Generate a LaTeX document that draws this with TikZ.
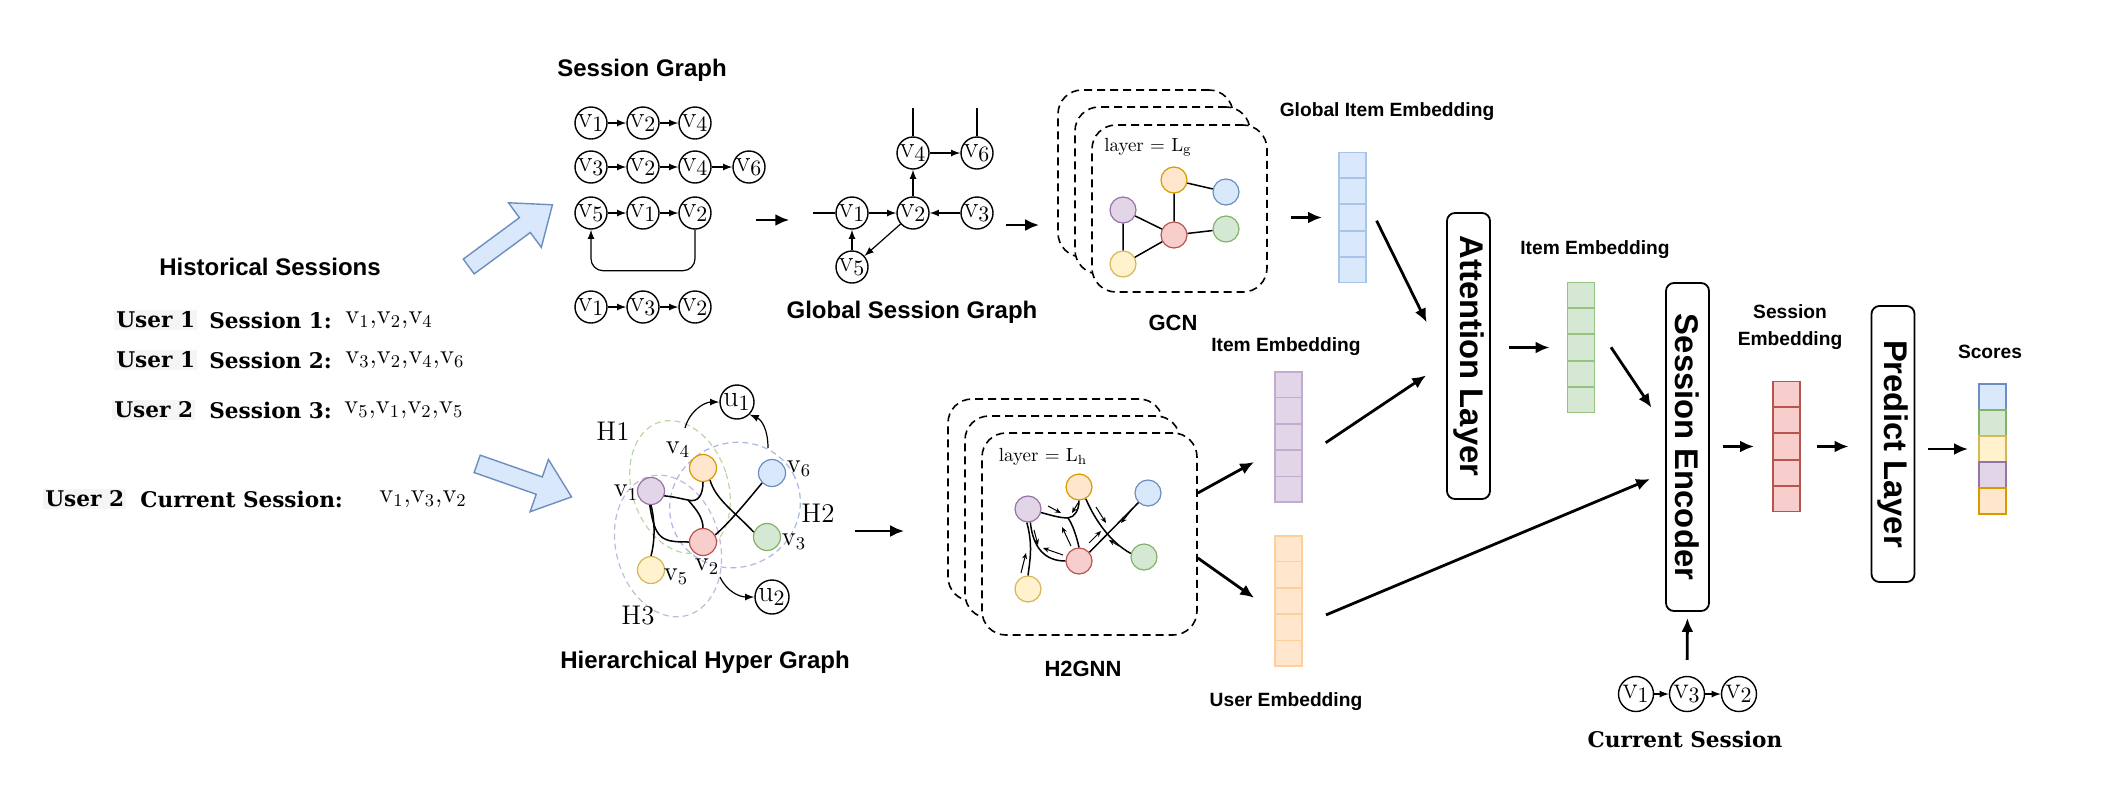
\documentclass[tikz,border=0pt]{standalone}
\usepackage{fontspec}
\setsansfont{Liberation Sans}
\newfontfamily\rowfont{DejaVu Serif}
\usepackage{amsmath}
\usepackage{graphicx}
\usetikzlibrary{arrows.meta,calc,shapes.arrows}
\tikzset{>=latex}

\definecolor{bfill}{HTML}{DAE8FC}\definecolor{bline}{HTML}{6C8EBF}
\definecolor{gfill}{HTML}{D5E8D4}\definecolor{gline}{HTML}{82B366}
\definecolor{yfill}{HTML}{FFF2CC}\definecolor{yline}{HTML}{D6B656}
\definecolor{pfill}{HTML}{E1D5E7}\definecolor{pline}{HTML}{9673A6}
\definecolor{ofill}{HTML}{FFE6CC}\definecolor{oline}{HTML}{D79B00}
\definecolor{rfill}{HTML}{F8CECC}\definecolor{rline}{HTML}{B85450}
\definecolor{blight}{HTML}{A9C4EB}\definecolor{plight}{HTML}{C3ABD0}
\definecolor{olight}{HTML}{FFCE9F}\definecolor{glight}{HTML}{97C280}
\definecolor{hgreen}{HTML}{B9D8A6}\definecolor{hblue}{HTML}{A9B9DF}
\definecolor{hpurple}{HTML}{C9B6D9}

\newcommand{\iv}[1]{$\mathrm{v}_{#1}$}
\newcommand{\embvec}[5]{%
  \node[vecbox, fill=#4, draw=#5] (#1) at (#2,#3) {};
  \foreach \k in {1,...,4}
    \draw[#5, line width=0.9pt] ($(#1.north west)!\k/5!(#1.south west)$) -- ($(#1.north east)!\k/5!(#1.south east)$);
}

\tikzset{
  ttl/.style={font=\sffamily\bfseries\fontsize{12}{14}\selectfont},
  mid/.style={font=\sffamily\bfseries\fontsize{11}{13}\selectfont},
  emlabel/.style={font=\sffamily\bfseries\fontsize{9.6}{13.5}\selectfont, align=center},
  sesrow/.style={anchor=west, inner sep=1pt, font=\rowfont\bfseries\fontsize{10.8}{13}\selectfont},
  usr/.style={sesrow, fill=black!4},
  seq/.style={anchor=west, inner sep=0pt, font=\fontsize{13.5}{15}\selectfont},
  sv/.style={circle, draw, line width=0.7pt, minimum size=16pt, inner sep=-2pt, font=\fontsize{15}{16}\selectfont},
  cv/.style={sv, minimum size=17.5pt, font=\fontsize{15.5}{16}\selectfont},
  gdot/.style={circle, draw, line width=0.6pt, minimum size=13pt, inner sep=0pt},
  hdot/.style={gdot, minimum size=13.5pt},
  hlab/.style={inner sep=0pt, font=\fontsize{13.5}{15}\selectfont},
  link/.style={->, line width=0.6pt},
  wire/.style={line width=0.75pt},
  tiny/.style={-{Stealth[length=3pt,width=2.5pt]}, line width=0.5pt},
  flow/.style={-{Latex[length=7pt,width=6pt]}, line width=1.4pt},
  card/.style={draw, fill=white, line width=0.8pt, dash pattern=on 4pt off 2.5pt, rounded corners=12pt},
  vecbox/.style={rectangle, minimum width=13.5pt, minimum height=65pt, inner sep=0pt, line width=0.9pt},
  cell/.style={rectangle, minimum width=13.5pt, minimum height=13pt, inner sep=0pt, line width=0.9pt},
  layerbox/.style={draw, rounded corners=4pt, line width=0.9pt, inner sep=0pt, minimum width=21.5pt, font=\sffamily\bfseries\fontsize{16.4}{18}\selectfont},
  hollow/.style={single arrow, draw=bline, fill=bfill, line width=0.7pt, inner sep=4.25pt, minimum width=27pt, single arrow head extend=9.25pt, single arrow tip angle=78},
  hedge/.style={dash pattern=on 3pt off 2pt, line width=0.6pt}
}

\begin{document}
\begin{tikzpicture}[x=0.5pt, y=-0.5pt]
\fill[white] (0,0) rectangle (2110,804);
\useasboundingbox (0,0) rectangle (2110,804);

% historical sessions
\node[ttl] (hist) at (270,267) {Historical Sessions};
\node[usr] (w1) at (114,320) {User 1};
\node[sesrow] (s1) at (207,320) {Session 1:};
\node[seq] (q1) at (345,320) {\iv1,\iv2,\iv4};
\node[usr] (w2) at (114,360) {User 1};
\node[sesrow] (s2) at (207,360) {Session 2:};
\node[seq] (q2) at (345,360) {\iv3,\iv2,\iv4,\iv6};
\node[usr] (w3) at (112,410) {User 2};
\node[sesrow] (s3) at (207,410) {Session 3:};
\node[seq] (q3) at (344,410) {\iv5,\iv1,\iv2,\iv5};
\node[usr] (w4) at (43,499) {User 2};
\node[sesrow] (s4) at (138,499) {Current Session:};
\node[seq] (q4) at (379,499) {\iv1,\iv3,\iv2};

\node[hollow, minimum height=52pt, rotate=36.4] (ba1) at (506,239) {};
\node[hollow, minimum height=50pt, rotate=-19.3] (ba2) at (519,478.5) {};

% session graph
\node[ttl] (sgt) at (642,70) {Session Graph};
\node[sv] (a1) at (591,123) {\iv1};
\node[sv] (a2) at (643,123) {\iv2};
\node[sv] (a3) at (695,123) {\iv4};
\node[sv] (b1) at (591,167) {\iv3};
\node[sv] (b2) at (643,167) {\iv2};
\node[sv] (b3) at (695,167) {\iv4};
\node[sv] (b4) at (749,167) {\iv6};
\node[sv] (c1) at (591,213) {\iv5};
\node[sv] (c2) at (643,213) {\iv1};
\node[sv] (c3) at (695,213) {\iv2};
\node[sv] (d1) at (591,307) {\iv1};
\node[sv] (d2) at (643,307) {\iv3};
\node[sv] (d3) at (695,307) {\iv2};
\draw[link] (a1) -- (a2);
\draw[link] (a2) -- (a3);
\draw[link] (b1) -- (b2);
\draw[link] (b2) -- (b3);
\draw[link] (b3) -- (b4);
\draw[link] (c1) -- (c2);
\draw[link] (c2) -- (c3);
\draw[link, rounded corners=6pt] (c3.south) -- ++(0,41) -| (c1.south);
\draw[link] (d1) -- (d2);
\draw[link] (d2) -- (d3);

% global session graph
\node[sv] (g1) at (852,213) {\iv1};
\node[sv] (g2) at (913,213) {\iv2};
\node[sv] (g3) at (977,213) {\iv3};
\node[sv] (g4) at (913,153) {\iv4};
\node[sv] (g6) at (977,153) {\iv6};
\node[sv] (g5) at (852,267) {\iv5};
\coordinate (gin) at (813,213);
\draw[line width=0.7pt] (gin) -- (g1);
\draw[line width=0.7pt] (g4.north) -- ++(0,-28);
\draw[line width=0.7pt] (g6.north) -- ++(0,-28);
\draw[link] (g1) -- (g2);
\draw[link] (g3) -- (g2);
\draw[link] (g2) -- (g4);
\draw[link] (g4) -- (g6);
\draw[link] (g5) -- (g1);
\draw[link] (g2) -- (g5);
\node[ttl] (ggt) at (912,312) {Global Session Graph};

\coordinate (sgo) at (756,220);
\draw[flow, shorten >=23pt] (sgo) -- (sgo -| g1.west);

% GCN
\node[card, minimum width=87.5pt, minimum height=83.5pt] (gb) at (1145.5,173.5) {};
\node[card, minimum width=87.5pt, minimum height=83.5pt] (gm) at (1162.5,190.5) {};
\node[card, minimum width=87.5pt, minimum height=83.5pt] (gf) at (1179.5,208.5) {};
\node[font=\fontsize{9.5}{11}\selectfont] (lg) at (1148,147) {layer = $\mathrm{L_g}$};
\node[gdot, fill=ofill, draw=oline] (go) at (1174,180) {};
\node[gdot, fill=bfill, draw=bline] (gbl) at (1226,192) {};
\node[gdot, fill=pfill, draw=pline] (gp) at (1123,210) {};
\node[gdot, fill=rfill, draw=rline] (gr) at (1174,235) {};
\node[gdot, fill=gfill, draw=gline] (gg) at (1226,229) {};
\node[gdot, fill=yfill, draw=yline] (gy) at (1123,264) {};
\draw[wire] (go) -- (gbl) (go) -- (gr) (gp) -- (gr) (gp) -- (gy) (gr) -- (gg) (gr) -- (gy);
\node[mid] (gcnt) at (1173,323) {GCN};

\coordinate (ggo) at (1006,225);
\draw[flow, shorten >=9pt] (ggo) -- (ggo -| gb.west);

% hierarchical hyper graph
\draw[hedge, hgreen, rotate around={18:(680,487)}] (680,487) ellipse [x radius=24pt, y radius=34pt];
\draw[hedge, hblue, rotate around={25:(735,505)}] (735,505) ellipse [x radius=33pt, y radius=31pt];
\draw[hedge, hpurple, rotate around={15:(668,546)}] (668,546) ellipse [x radius=26pt, y radius=36pt];
\node[hdot, fill=pfill, draw=pline] (h1) at (651,491) {};
\node[hdot, fill=ofill, draw=oline] (h4) at (703,468) {};
\node[hdot, fill=bfill, draw=bline] (h6) at (772,473) {};
\node[hdot, fill=rfill, draw=rline] (h2) at (703,542) {};
\node[hdot, fill=gfill, draw=gline] (h3) at (767,537) {};
\node[hdot, fill=yfill, draw=yline] (h5) at (651,570) {};
\node[sv, minimum size=17pt] (u1) at (737,402) {$\mathrm{u}_1$};
\node[sv, minimum size=17pt] (u2) at (772,597) {$\mathrm{u}_2$};
\coordinate (hj) at (688,500);
\draw[wire] (h1.-20) .. controls (676,497) and (682,499) .. (hj) .. controls (698,503) and (703,495) .. (h4.south);
\draw[wire] (hj) .. controls (697,510) and (703,518) .. (h2.north);
\draw[wire] (h1.-95) .. controls (655,540) and (662,542) .. (h2.west);
\draw[wire] (h1.-90) .. controls (656,525) and (654,545) .. (h5.north);
\draw[wire] (h4.-60) .. controls (716,500) and (735,512) .. (h3.160);
\draw[wire] (h6.-135) .. controls (748,500) and (730,522) .. (h2.30);
\coordinate (ht1) at (685,428);
\coordinate (ht6) at (768,448);
\coordinate (ht2) at (720,577);
\draw[link] (ht1) .. controls (690,410) and (705,402) .. (u1.west);
\draw[link] (ht6) .. controls (768,430) and (762,420) .. (u1.-45);
\draw[link] (ht2) .. controls (727,592) and (740,597) .. (u2.west);
\node[hlab] (l4) at (678,450) {\iv4};
\node[hlab] (l6) at (799,469) {\iv6};
\node[hlab] (l1) at (626,493) {\iv1};
\node[hlab] (l2) at (707,567) {\iv2};
\node[hlab] (l3) at (794,542) {\iv3};
\node[hlab] (l5) at (676,577) {\iv5};
\node[hlab] (H1) at (613,431) {H1};
\node[hlab] (H2) at (818,513) {H2};
\node[hlab] (H3) at (638,616) {H3};
\node[ttl] (hgt) at (705,662) {Hierarchical Hyper Graph};

% H2GNN
\node[card, minimum width=107.5pt, minimum height=101pt] (hb) at (1055.5,500) {};
\node[card, minimum width=107.5pt, minimum height=101pt] (hm) at (1072.5,517) {};
\node[card, minimum width=107.5pt, minimum height=101pt] (hf) at (1089.5,534) {};
\node[font=\fontsize{9.5}{11}\selectfont] (lh) at (1043,457) {layer = $\mathrm{L_h}$};
\node[gdot, fill=ofill, draw=oline] (ko) at (1079,487) {};
\node[gdot, fill=bfill, draw=bline] (kb) at (1148,493) {};
\node[gdot, fill=pfill, draw=pline] (kp) at (1028,509) {};
\node[gdot, fill=rfill, draw=rline] (kr) at (1079,561) {};
\node[gdot, fill=gfill, draw=gline] (kg) at (1144,557) {};
\node[gdot, fill=yfill, draw=yline] (ky) at (1028,589) {};
\coordinate (kj) at (1068,518);
\draw[wire] (kp.-15) .. controls (1050,515) and (1060,518) .. (kj) .. controls (1075,517) and (1079,510) .. (ko.south);
\draw[wire] (kj) .. controls (1073,525) and (1077,538) .. (kr.north);
\draw[wire] (kp.-80) .. controls (1033,548) and (1045,561) .. (kr.west);
\draw[wire] (kp.-95) .. controls (1033,545) and (1030,560) .. (ky.north);
\draw[wire] (ko.-60) .. controls (1095,520) and (1110,542) .. (kg.165);
\draw[wire] (kb.-135) -- (kr.40);
\foreach \s/\e in {{1048,506}/{1061,513}, {1078,503}/{1072,513}, {1071,546}/{1062,527}, {1034,530}/{1038,545},
                   {1063,555}/{1043,548}, {1021,573}/{1026,553}, {1096,507}/{1106,523}, {1119,546}/{1109,540},
                   {1089,543}/{1101,531}, {1133,508}/{1121,523}}
  \draw[tiny] (\s) -- (\e);
\node[mid] (h2t) at (1083,669) {H2GNN};

\coordinate (hgo) at (855,531);
\draw[flow, shorten >=21.5pt] (hgo) -- (hgo -| hb.west);

% embeddings
\embvec{gie}{1352.5}{217.5}{bfill}{blight}
\embvec{pie}{1288.5}{437}{pfill}{plight}
\embvec{uie}{1288.5}{601}{ofill}{olight}
\embvec{gre}{1581}{347.5}{gfill}{glight}
\embvec{sem}{1786.5}{446.5}{rfill}{rline}
\node[emlabel] (giet) at (1387,112) {Global Item Embedding};
\node[emlabel] (piet) at (1286,347) {Item Embedding};
\node[emlabel] (uiet) at (1286,702) {User Embedding};
\node[emlabel] (gret) at (1595,250) {Item Embedding};
\node[emlabel] (semt) at (1790,327) {Session\\Embedding};

% layers
\node[layerbox, minimum height=143pt] (att) at (1468.5,356) {\rotatebox{-90}{Attention Layer}};
\node[layerbox, minimum height=164pt] (enc) at (1687.5,447) {\rotatebox{-90}{Session Encoder}};
\node[layerbox, minimum height=138pt] (pre) at (1893,444) {\rotatebox{-90}{Predict Layer}};

% scores
\node[cell, fill=bfill, draw=bline] (sc1) at (1992.5,397) {};
\node[cell, fill=gfill, draw=gline] (sc2) at (1992.5,423) {};
\node[cell, fill=yfill, draw=yline] (sc3) at (1992.5,449) {};
\node[cell, fill=pfill, draw=pline] (sc4) at (1992.5,475) {};
\node[cell, fill=ofill, draw=oline] (sc5) at (1992.5,501) {};
\node[emlabel] (sct) at (1990,352) {Scores};

% current session
\node[cv] (cv1) at (1636,694) {\iv1};
\node[cv] (cv3) at (1687,694) {\iv3};
\node[cv] (cv2) at (1739,694) {\iv2};
\draw[link] (cv1) -- (cv3);
\draw[link] (cv3) -- (cv2);
\node[sesrow, anchor=center] (cst) at (1685,739) {Current Session};

% flow
\draw[flow, shorten <=11.5pt, shorten >=8pt] (gf.east |- gie) -- (gie.west);
\draw[flow, shorten <=11pt, shorten >=22pt] ([yshift=8.25pt]gie.east) -- ([yshift=-3pt]att.west);
\draw[flow, shorten <=13.7pt, shorten >=12pt] ([yshift=-10.5pt]pie.east) -- ([yshift=-3pt]att.west);
\draw[flow, shorten >=11.4pt] ([yshift=20.5pt]hf.east) -- ([yshift=-7pt]pie.west);
\draw[flow, shorten >=12.2pt] ([yshift=-12pt]hf.east) -- ([yshift=-5.5pt]uie.west);
\draw[flow, shorten <=9pt, shorten >=8.5pt] (att.east |- gre) -- (gre.west);
\draw[flow, shorten <=14pt, shorten >=12.2pt] ([yshift=11.75pt]gre.east) -- ([yshift=9.5pt]enc.west);
\draw[flow, shorten <=12.5pt, shorten >=8.1pt] ([yshift=-11.8pt]uie.east) -- ([yshift=-12.85pt]enc.west);
\draw[flow, shorten <=6.5pt, shorten >=9pt] (enc.east |- sem) -- (sem.west);
\draw[flow, shorten <=8pt, shorten >=11pt] (sem.east) -- (pre.west |- sem);
\draw[flow, shorten <=6.5pt, shorten >=5pt] (pre.east |- sc3) -- (sc3.west);
\draw[flow, shorten <=8pt, shorten >=3pt] (cv3.north) -- (enc.south);
\end{tikzpicture}
\end{document}
